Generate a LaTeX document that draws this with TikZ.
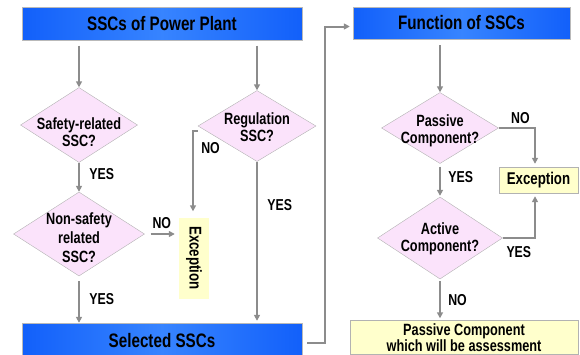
\documentclass[tikz,border=0pt]{standalone}
\usepackage{fontspec}
\setmainfont{Liberation Sans}[FakeStretch=0.78]
\usetikzlibrary{arrows.meta, shapes.geometric}

\definecolor{boxblue}{HTML}{1260FA}
\definecolor{boxbluelt}{HTML}{3784FF}
\definecolor{decpink}{HTML}{FBE3FB}
\definecolor{excyellow}{HTML}{FFFFCC}
\definecolor{lngray}{HTML}{8C8C8C}

\begin{document}
\begin{tikzpicture}[x=1pt, y=-1pt,
		head/.style={rectangle, draw=gray!55, left color=boxblue, right color=boxblue, middle color=boxbluelt,
			minimum height=33, inner sep=0, font=\bfseries\fontsize{19.5}{21}\selectfont},
		dec/.style={diamond, draw=gray!60, fill=decpink, inner sep=0},
		qtext/.style={align=center, font=\bfseries\fontsize{16.3}{17}\selectfont},
		exc/.style={rectangle, fill=excyellow, inner sep=0, font=\bfseries\fontsize{17}{18}\selectfont},
		lbl/.style={font=\bfseries\fontsize{15.8}{16}\selectfont},
		arr/.style={-{Triangle[length=6pt, width=6pt]}, draw=lngray, line width=2pt}
		]
		\useasboundingbox (0,0) rectangle (580,354);
		
		% left column
		\node[head, minimum width=280] (ssc) at (162,24) {SSCs of Power Plant};
		\node[dec, minimum width=117, minimum height=75,
			label={[qtext, yshift=-7pt]center:Safety-related\\SSC?}] (safe) at (79,125) {};
		\node[dec, minimum width=131, minimum height=84,
			label={[qtext, font=\bfseries\fontsize{16.3}{19}\selectfont, yshift=-4pt]center:Non-safety\\related\\SSC?}] (nons) at (79,234) {};
		\node[dec, minimum width=118, minimum height=71,
			label={[qtext, yshift=-1pt]center:Regulation\\SSC?}] (reg) at (257,126) {};
		\node[exc, rotate=-90, minimum width=81, minimum height=30] (exc1) at (194,258) {Exception};
		\node[head, minimum width=280, minimum height=36] (sel) at (162,341) {\raisebox{2pt}{Selected SSCs}};
		
		% right column
		\node[head, minimum width=217, minimum height=32] (fun) at (461.5,23) {Function of SSCs};
		\node[dec, minimum width=117, minimum height=71,
			label={[qtext, yshift=-3pt]center:Passive\\Component?}] (pas) at (440,128) {};
		\node[dec, minimum width=125, minimum height=82,
			label={[qtext, yshift=-1pt]center:Active\\Component?}] (act) at (440,238) {};
		\node[exc, draw=gray!60, minimum width=79, minimum height=26] (exc2) at (538.5,180) {Exception};
		\node[exc, draw=gray!60, minimum width=228, minimum height=34, align=center,
			font=\bfseries\fontsize{16.3}{14}\selectfont] (pbox) at (464,337.5) {Passive Component\\which will be assessment};
		
		% connectors
		\draw[arr, shorten <=5pt] (ssc.south -| safe.north) -- (safe.north);
		\draw[arr, shorten <=5pt] (ssc.south -| reg.north) -- (reg.north);
		\draw[arr] (safe.south) -- node[lbl, right=6pt, pos=0.4]{YES} (nons.north);
		\draw[arr, shorten <=6pt, shorten >=4pt] (nons.east) -- node[lbl, above=1pt]{NO} (nons.east -| exc1.south);
		\draw[arr, shorten <=5pt] (nons.south) -- node[lbl, right=6pt]{YES} (sel.north -| nons.south);
		\draw[arr, shorten >=6pt] ([yshift=-5pt]reg.west) -| node[lbl, pos=0.6, right=4pt]{NO} ([xshift=-1pt]exc1.west);
		\draw[arr, shorten >=2pt] (reg.south) -- node[lbl, pos=0.27, right=6pt]{YES} (sel.north -| reg.south);
		\draw[arr, shorten <=5pt, shorten >=3pt] ([yshift=-2pt]sel.east) -- ++(23,0) |- ([yshift=-3.5pt]fun.west);
		\draw[arr, shorten <=6pt] (fun.south -| pas.north) -- (pas.north);
		\draw[arr, shorten >=3pt] (pas.east) -| node[lbl, pos=0.3, above=0pt]{NO} ([xshift=-3.5pt]exc2.north);
		\draw[arr, shorten <=3pt, shorten >=1pt] (pas.south) -- node[lbl, right=4pt, pos=0.4]{YES} (act.north);
		\draw[arr, shorten >=3pt] (act.east) -| node[lbl, pos=0.25, below=4pt]{YES} ([xshift=-3.5pt]exc2.south);
		\draw[arr, shorten <=2pt, shorten >=2pt] (act.south) -- node[lbl, right=4pt]{NO} (pbox.north -| act.south);
	\end{tikzpicture}
\end{document}
